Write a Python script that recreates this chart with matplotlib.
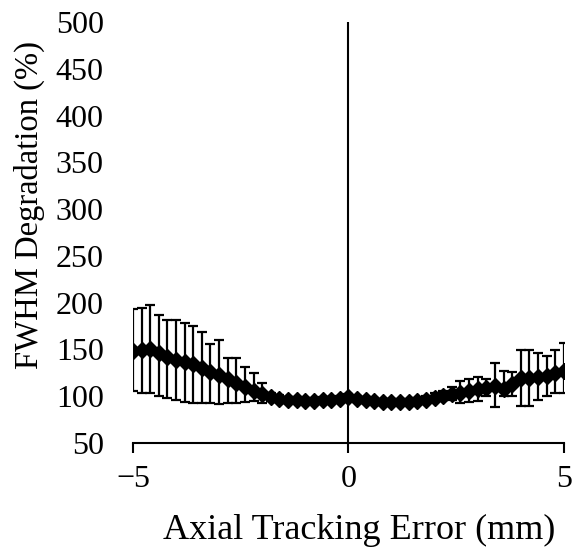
import matplotlib
matplotlib.use("Agg")
import matplotlib.pyplot as plt
import numpy as np

plt.rcParams['font.family'] = ['Liberation Serif', 'DejaVu Serif']
plt.rcParams['axes.unicode_minus'] = True

x = [-5.0, -4.8, -4.6, -4.4, -4.2, -4.0, -3.8, -3.6, -3.4, -3.2,
     -3.0, -2.8, -2.6, -2.4, -2.2, -2.0, -1.8, -1.6, -1.4, -1.2,
     -1.0, -0.8, -0.6, -0.4, -0.2, 0.0, 0.2, 0.4, 0.6, 0.8,
     1.0, 1.2, 1.4, 1.6, 1.8, 2.0, 2.2, 2.4, 2.6, 2.8,
     3.0, 3.2, 3.4, 3.6, 3.8, 4.0, 4.2, 4.4, 4.6, 4.8, 5.0]

mean = [148, 149, 150, 146, 142, 139, 137, 134, 130, 126,
        123, 118, 114, 110, 106, 102, 99, 97, 96, 96,
        95, 95, 96, 96, 97, 99, 97, 96, 95, 94,
        94, 94, 94, 95, 96, 98, 100, 102, 104, 106,
        108, 109, 111, 108, 113, 119, 120, 121, 122, 125, 127]

upper = [193, 194, 198, 187, 182, 181, 178, 175, 169, 156,
         160, 141, 141, 131, 125, 114, 103, 101, 99, 99,
         98, 98, 99, 99, 100, 102, 100, 99, 98, 97,
         97, 97, 97, 98, 100, 103, 106, 110, 116, 118,
         121, 118, 136, 127, 126, 149, 149, 146, 143, 149, 157]

lower = [106, 104, 103, 100, 98, 96, 94, 93, 93, 93,
         92, 93, 93, 94, 95, 93, 95, 94, 93, 93,
         92, 92, 93, 93, 94, 96, 94, 93, 92, 91,
         91, 91, 91, 92, 93, 95, 96, 96, 93, 94,
         95, 100, 89, 100, 100, 90, 90, 96, 100, 103, 104]

xticks = [-5, 0, 5]
yticks = [50, 100, 150, 200, 250, 300, 350, 400, 450, 500]

fig = plt.figure(figsize=(5.73, 5.5), dpi=100)
ax = fig.add_axes([0.232, 0.1945, 0.752, 0.7655])

mean_a = np.array(mean)
yerr = [mean_a - np.array(lower), np.array(upper) - mean_a]
ax.errorbar(x, mean, yerr=yerr, fmt='none', ecolor='black', elinewidth=1.6,
            capsize=3.5, capthick=1.6, zorder=2)
ax.plot(x, mean, color='black', lw=4, marker='D', ms=8, zorder=3)

ax.axvline(0, color='black', lw=1.5, zorder=1)

ax.set_xlim(-5, 5)
ax.set_ylim(50, 500)
ax.set_xticks(xticks)
ax.set_yticks(yticks)
ax.set_xticklabels(['\u22125', '0', '5'])

for s in ['top', 'right', 'left']:
    ax.spines[s].set_visible(False)
ax.spines['bottom'].set_linewidth(1.5)

ax.tick_params(axis='y', length=0, pad=21, labelsize=23)
ax.tick_params(axis='x', direction='out', length=7, width=1.5, pad=9, labelsize=23)

ax.set_xlabel('Axial Tracking Error (mm)', fontsize=26)
ax.xaxis.set_label_coords(0.525, -0.168)
ax.set_ylabel('FWHM Degradation (%)', fontsize=23.5)
ax.yaxis.set_label_coords(-0.205, 0.565)

fig.savefig('out.png', dpi=100)
